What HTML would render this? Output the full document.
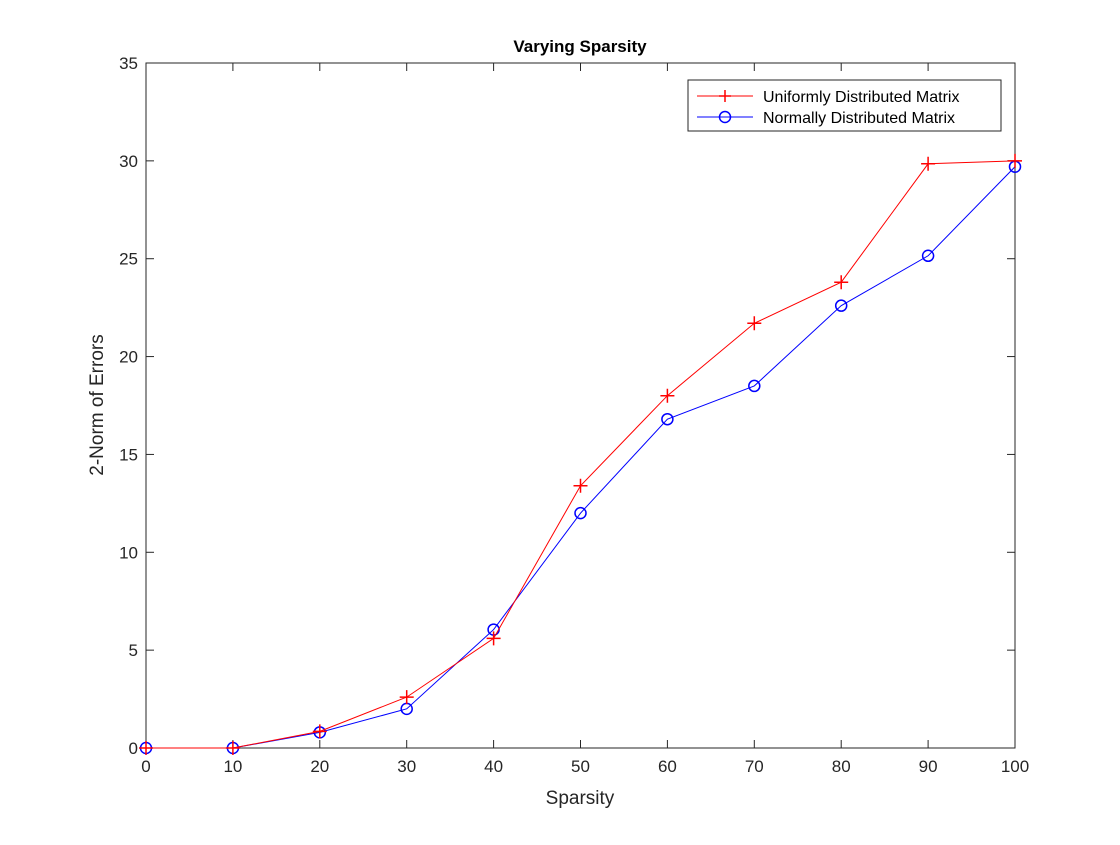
<!DOCTYPE html>
<html><head><meta charset="utf-8"><style>
body{margin:0;background:#fff;}
svg text{font-family:"Liberation Sans",Arial,sans-serif;fill:#262626;}
</style></head><body>
<svg id="chart" width="1120" height="840">
<rect x="0" y="0" width="1120" height="840" fill="#fff"/>
<text x="580" y="52" text-anchor="middle" font-size="17" font-weight="bold" style="fill:#000">Varying Sparsity</text>
<g id="axes"></g>
<g id="series"></g>
<text x="580" y="804" text-anchor="middle" font-size="19">Sparsity</text>
<text transform="translate(103,405) rotate(-90)" text-anchor="middle" font-size="19">2-Norm of Errors</text>
<g>
<rect x="688" y="80" width="313" height="51" fill="#fff" stroke="#262626" stroke-width="1"/>
<g>
<line x1="697" y1="96" x2="753" y2="96" stroke="#ff0000" stroke-width="1"/>
<path d="M719,96 h12 M725,90 v12" stroke="#ff0000" stroke-width="1.5"/>
<text x="763" y="102" font-size="16" style="fill:#000">Uniformly Distributed Matrix</text>
</g>
<g>
<line x1="697" y1="117" x2="753" y2="117" stroke="#0000ff" stroke-width="1"/>
<circle cx="725" cy="117" r="5.5" fill="none" stroke="#0000ff" stroke-width="1.5"/>
<text x="763" y="123" font-size="16" style="fill:#000">Normally Distributed Matrix</text>
</g>
</g>
</svg>
<script>
const categories=[0,10,20,30,40,50,60,70,80,90,100];
const uniformValues=[0,0,0.85,2.6,5.6,13.4,18.0,21.7,23.8,29.85,30.0];
const normalValues=[0,0,0.8,2.0,6.05,12.0,16.8,18.5,22.6,25.15,29.7];
const xTicks=[0,10,20,30,40,50,60,70,80,90,100];
const yTicks=[0,5,10,15,20,25,30,35];
const L=146,R=1015,T=63,B=748;
const xs=v=>L+(v-0)/(100-0)*(R-L);
const ys=v=>B-(v-0)/(35-0)*(B-T);
const NS="http://www.w3.org/2000/svg";
function mk(tag,attrs,parent){const e=document.createElementNS(NS,tag);for(const k in attrs)e.setAttribute(k,attrs[k]);parent.appendChild(e);return e;}
const ax=document.getElementById('axes');
const box=mk('rect',{x:L,y:T,width:R-L,height:B-T,fill:'none',stroke:'#262626','stroke-width':1},ax);


xTicks.forEach(t=>{
  const x=xs(t);
  mk('line',{x1:x,y1:B,x2:x,y2:B-8,stroke:'#262626'},ax);
  mk('line',{x1:x,y1:T,x2:x,y2:T+8,stroke:'#262626'},ax);
  const tx=mk('text',{x:x,y:B+24,'text-anchor':'middle','font-size':17},ax);
  tx.textContent=t;
  
  
});
yTicks.forEach(t=>{
  const y=ys(t);
  mk('line',{x1:L,y1:y,x2:L+8,y2:y,stroke:'#262626'},ax);
  mk('line',{x1:R,y1:y,x2:R-8,y2:y,stroke:'#262626'},ax);
  const tx=mk('text',{x:L-8,y:y+6,'text-anchor':'end','font-size':17},ax);
  tx.textContent=t;
  
  
});
const sg=document.getElementById('series');
function draw(vals,color,marker,name){
  const g=mk('g',{},sg);
  
  
  const pts=vals.map((v,i)=>xs(categories[i])+','+ys(v)).join(' ');
  mk('polyline',{points:pts,fill:'none',stroke:color,'stroke-width':1},g);
  vals.forEach((v,i)=>{
    const x=xs(categories[i]),y=ys(v);
    let m;
    if(marker==='plus') m=mk('path',{d:`M${x-7},${y} h14 M${x},${y-7} v14`,stroke:color,'stroke-width':1.5},g);
    else m=mk('circle',{cx:x,cy:y,r:5.5,fill:'none',stroke:color,'stroke-width':1.5},g);
    
    
  });
}
draw(normalValues,'#0000ff','circle','series-normal');
draw(uniformValues,'#ff0000','plus','series-uniform');
</script>
</body></html>
